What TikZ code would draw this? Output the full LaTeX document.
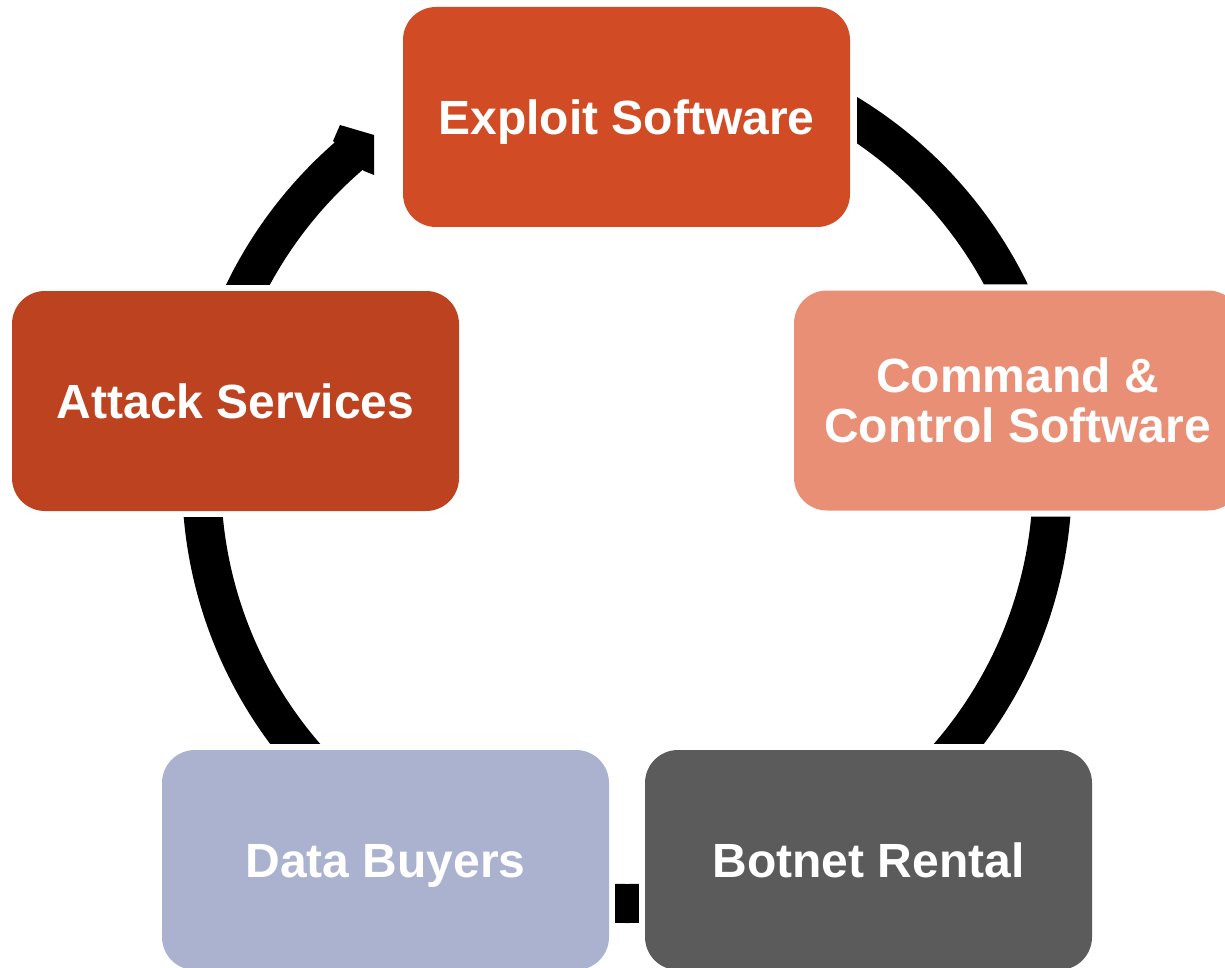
\documentclass[tikz,border=0pt]{standalone}
\usepackage{fontspec}
\setmainfont{Liberation Sans}
\usepackage{tikz}

\definecolor{exploitred}{HTML}{D14B24}
\definecolor{attackred}{HTML}{BC4220}
\definecolor{salmon}{HTML}{E98F76}
\definecolor{botgray}{HTML}{5B5B5B}
\definecolor{lilac}{HTML}{AAB2CF}

\begin{document}
\begin{tikzpicture}[x=1pt,y=-1pt,
  stage/.style={rounded corners=33pt, minimum width=447pt, minimum height=220pt,
    inner sep=0pt, text=white, font=\bfseries\fontsize{48}{50}\selectfont},
  oneline/.style={text height=35pt, text depth=0pt},
  band/.style={line width=39pt, black}]

\useasboundingbox (0,0) rectangle (1225,968);

\coordinate (hub) at (627,478);

\node[stage,oneline,fill=exploitred] (exploit) at (626.5,117) {Exploit Software};
\node[stage,fill=salmon,align=center] (cc) at (1017.5,400.5) {Command \&\\Control Software};
\node[stage,oneline,fill=botgray] (botnet) at (868.5,860) {Botnet Rental};
\node[stage,oneline,fill=lilac] (buyers) at (385.5,860) {Data Buyers};
\node[stage,oneline,fill=attackred] (attack) at (235.5,401) {Attack Services};

% the cycle ring, cut away round the boxes and behind the arrow head
\begin{scope}[even odd rule]
\clip (-50,-50) rectangle (1300,1050)
  (275,1) -- (857,1) -- (857,233) -- (374,233) -- (374,185) -- (371,185) -- cycle
  ([xshift=-6pt,yshift=6pt]cc.north west) rectangle ([xshift=6pt,yshift=-6pt]cc.south east)
  ([xshift=-6pt,yshift=6pt]botnet.north west) rectangle ([xshift=6pt,yshift=-6pt]botnet.south east)
  ([xshift=-6pt,yshift=6pt]buyers.north west) rectangle ([xshift=6pt,yshift=-6pt]buyers.south east)
  ([xshift=-6pt,yshift=6pt]attack.north west) rectangle ([xshift=6pt,yshift=-6pt]attack.south east);
\draw[band] (hub) circle (425.5);
\end{scope}

% arrow head into Exploit Software
\fill (333,141) -- (340,125) -- (374,135) -- (374,175) -- (364,171) -- cycle;

\end{tikzpicture}
\end{document}
